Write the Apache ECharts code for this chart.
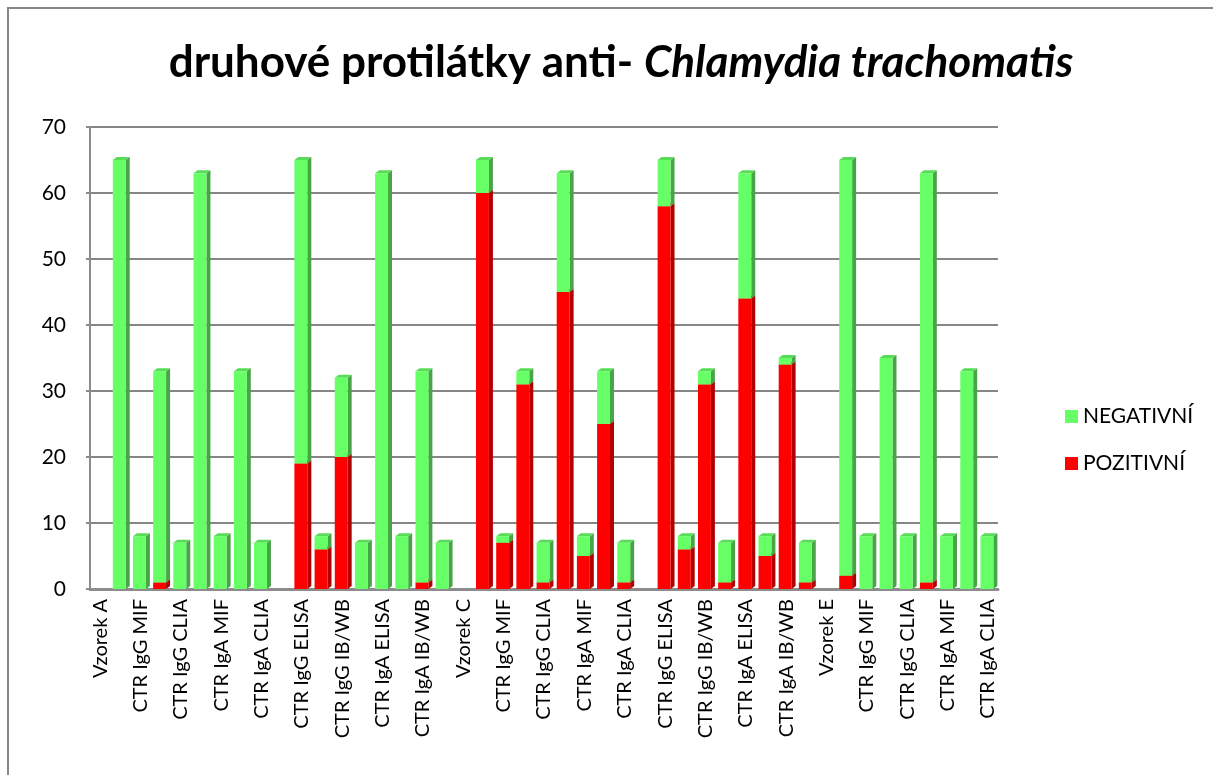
<!DOCTYPE html>
<html lang="cs">
<head>
<meta charset="UTF-8">
<title>druhové protilátky</title>
<style>
    * { padding: 0; margin: 0; box-sizing: border-box; }
    html, body, #chart { width: 100%; height: 100%; background: #fff; }
</style>
</head>
<body>
<div id="chart"></div>
<script src="https://cdn.jsdelivr.net/npm/echarts@6/dist/echarts.min.js"></script>
<script>
// kategorie (vzorek + 8 testů)
const categories = [
    'Vzorek A', 'CTR IgG ELISA', 'CTR IgG MIF', 'CTR IgG IB/WB', 'CTR IgG CLIA', 'CTR IgA ELISA', 'CTR IgA MIF', 'CTR IgA IB/WB', 'CTR IgA CLIA',
    'Vzorek B', 'CTR IgG ELISA', 'CTR IgG MIF', 'CTR IgG IB/WB', 'CTR IgG CLIA', 'CTR IgA ELISA', 'CTR IgA MIF', 'CTR IgA IB/WB', 'CTR IgA CLIA',
    'Vzorek C', 'CTR IgG ELISA', 'CTR IgG MIF', 'CTR IgG IB/WB', 'CTR IgG CLIA', 'CTR IgA ELISA', 'CTR IgA MIF', 'CTR IgA IB/WB', 'CTR IgA CLIA',
    'Vzorek D', 'CTR IgG ELISA', 'CTR IgG MIF', 'CTR IgG IB/WB', 'CTR IgG CLIA', 'CTR IgA ELISA', 'CTR IgA MIF', 'CTR IgA IB/WB', 'CTR IgA CLIA',
    'Vzorek E', 'CTR IgG ELISA', 'CTR IgG MIF', 'CTR IgG IB/WB', 'CTR IgG CLIA', 'CTR IgA ELISA', 'CTR IgA MIF', 'CTR IgA IB/WB', 'CTR IgA CLIA'
]

const pozitivni = [
    0, 0, 0, 1, 0, 0, 0, 0, 0,
    0, 19, 6, 20, 0, 0, 0, 1, 0,
    0, 60, 7, 31, 1, 45, 5, 25, 1,
    0, 58, 6, 31, 1, 44, 5, 34, 1,
    0, 2, 0, 0, 0, 1, 0, 0, 0
]

const negativni = [
    0, 65, 8, 32, 7, 63, 8, 33, 7,
    0, 46, 2, 12, 7, 63, 8, 32, 7,
    0, 5, 1, 2, 6, 18, 3, 8, 6,
    0, 7, 2, 2, 6, 19, 3, 1, 6,
    0, 63, 8, 35, 8, 62, 8, 33, 8
]

const yTicks = [0, 10, 20, 30, 40, 50, 60, 70]

const FONT = 'Lato, "Open Sans", sans-serif'

// 3D sloupec: přední stěna, bok, vršek
function bar3d(front, side, top) {
    return function (params, api) {
        const x = api.value(0)
        const y0 = api.value(1)
        const y1 = api.value(2)
        if (y1 <= y0) return
        const p0 = api.coord([x, y0])
        const p1 = api.coord([x, y1])
        const band = api.size([1, 0])[0]
        const w = band * 0.64
        const dx = 4, dy = 3
        const l = p0[0] - w / 2 - 1
        const r = l + w
        return {
            type: 'group',
            children: [{
                type: 'polygon',
                shape: { points: [[r, p0[1]], [r + dx, p0[1] - dy], [r + dx, p1[1] - dy], [r, p1[1]]] },
                style: { fill: side }
            }, {
                type: 'polygon',
                shape: { points: [[l, p1[1]], [l + dx, p1[1] - dy], [r + dx, p1[1] - dy], [r, p1[1]]] },
                style: { fill: top }
            }, {
                type: 'rect',
                shape: { x: l, y: p1[1], width: w, height: p0[1] - p1[1] },
                style: { fill: front }
            }]
        }
    }
}

const posData = categories.map((c, i) => [i, 0, pozitivni[i]])
const negData = categories.map((c, i) => [i, pozitivni[i], pozitivni[i] + negativni[i]])

const chart = echarts.init(document.getElementById('chart'))

chart.setOption({
    backgroundColor: '#fff',
    animation: false,
    textStyle: { fontFamily: FONT },
    title: {
        text: '{b|druhové protilátky anti- }{i|Chlamydia trachomatis}',
        left: 616,
        top: 36,
        textAlign: 'center',
        textStyle: {
            rich: {
                b: { fontFamily: FONT, fontWeight: 'bold', fontSize: 44, color: '#000' },
                i: { fontFamily: FONT, fontWeight: 'bold', fontStyle: 'italic', fontSize: 44, color: '#000' }
            }
        }
    },
    graphic: [{
        type: 'rect',
        shape: { x: 8, y: 8, width: 1220, height: 800 },
        style: { fill: 'none', stroke: '#868686', lineWidth: 2 },
        silent: true
    }],
    legend: {
        data: ['NEGATIVNÍ', 'POZITIVNÍ'],
        orient: 'vertical',
        left: 1060,
        top: 401,
        itemWidth: 13,
        itemHeight: 13,
        itemGap: 26,
        icon: 'rect',
        textStyle: { fontFamily: FONT, fontSize: 21, color: '#000' }
    },
    grid: { left: 90, right: 215, top: 127, bottom: 186 },
    xAxis: {
        type: 'category',
        data: categories,
        axisLine: { lineStyle: { color: '#8c8c8c', width: 3 } },
        axisTick: { show: false },
        axisLabel: {
            interval: 1,
            rotate: 90,
            margin: 10,
            fontFamily: FONT,
            fontSize: 20,
            color: '#000'
        }
    },
    yAxis: {
        type: 'value',
        min: yTicks[0],
        max: yTicks[yTicks.length - 1],
        interval: 10,
        axisLine: { show: true, lineStyle: { color: '#8c8c8c', width: 2 } },
        axisTick: { show: true, length: 4, lineStyle: { color: '#8c8c8c', width: 2 } },
        splitLine: { lineStyle: { color: '#868686', width: 2 } },
        axisLabel: { margin: 24, fontFamily: FONT, fontSize: 21, color: '#000' }
    },
    series: [{
        name: 'NEGATIVNÍ',
        type: 'custom',
        itemStyle: { color: '#66FF66' },
        renderItem: bar3d('#66FF66', '#47A547', '#58DC58'),
        encode: { x: 0, y: [1, 2] },
        data: negData,
        z: 4
    }, {
        name: 'POZITIVNÍ',
        type: 'custom',
        itemStyle: { color: '#FF0000' },
        renderItem: bar3d('#FF0000', '#B00000', '#D80000'),
        encode: { x: 0, y: [1, 2] },
        data: posData,
        z: 3
    }]
})
</script>
</body>
</html>
